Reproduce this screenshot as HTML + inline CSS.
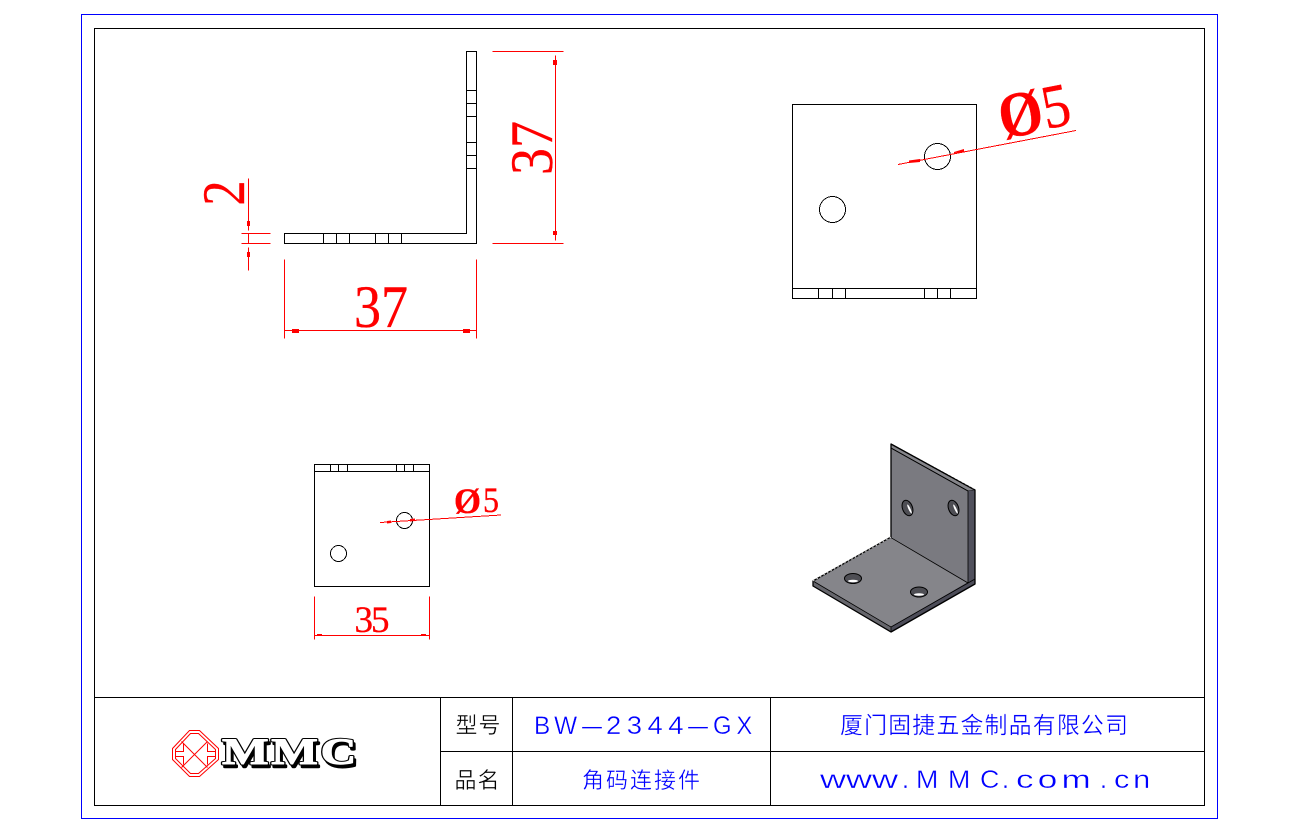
<!DOCTYPE html>
<html><head><meta charset="utf-8"><style>
html,body{margin:0;padding:0;background:#fff;width:1300px;height:840px;overflow:hidden}
svg{display:block}
.r{stroke:#f00;stroke-width:1;fill:none}
.k{stroke:#000;stroke-width:1;fill:none}
.c{font-family:"Liberation Serif",serif;fill:#f00;stroke:#f00;stroke-width:.35}
.t{font-family:"Liberation Sans","WenQuanYi Zen Hei","Noto Sans CJK SC",sans-serif}
</style></head><body>
<svg width="1300" height="840" viewBox="0 0 1300 840" xmlns="http://www.w3.org/2000/svg">
<g transform="translate(.5 .5)" shape-rendering="crispEdges">
<rect x="81" y="14" width="1136" height="804" fill="none" stroke="#00f"/>
<rect x="94" y="28" width="1110" height="777" class="k"/>
<path class="k" d="M94 697H1204M440 751H1204M440 697V805M512 697V805M770 697V805"/>
<!-- front view -->
<path class="k" d="M466 51H476V243H284V233H466ZM466 90H476M466 103H476M466 116H476M466 142H476M466 155H476M466 168H476M323 233V243M336 233V243M349 233V243M375 233V243M388 233V243M401 233V243"/>
<path class="r" d="M492 51H563M492 243H563M555 55V240M241 233H270M241 243H270M248 178V230M248 233V243M248 247V270M284 259V338M476 259V338M284 330H476"/>
<!-- top right view -->
<path class="k" d="M792 104H976V298H792ZM792 288H976M818 288V298M832 288V298M845 288V298M924 288V298M937 288V298M950 288V298"/>
<!-- bottom left view -->
<path class="k" d="M314 464H429V586H314ZM314 471H429M330 464V471M338 464V471M347 464V471M396 464V471M404 464V471M413 464V471"/>
<path class="r" d="M314 596V639M429 596V639M314 635H429"/>
</g>
<g fill="#f00" shape-rendering="crispEdges">
<rect x="553" y="60" width="4" height="5"/><rect x="553" y="231" width="4" height="4"/>
<rect x="247" y="221" width="3" height="5"/><rect x="247" y="252" width="3" height="5"/>
<rect x="292" y="329" width="7" height="4"/><rect x="463" y="329" width="7" height="4"/>
<rect x="317" y="634" width="5" height="2"/><rect x="421" y="634" width="5" height="2"/>
</g>
<g shape-rendering="crispEdges">
<circle cx="937.500" cy="156.500" r="13" fill="none" stroke="#000"/>
<circle cx="832.500" cy="209.500" r="13" fill="none" stroke="#000"/>
<circle cx="404.500" cy="520.500" r="8" fill="none" stroke="#000"/>
<circle cx="338.500" cy="553.500" r="8" fill="none" stroke="#000"/>
<path class="r" d="M898 164.500L1076 130.500M380 522.500L501 515"/>
</g>
<path fill="#f00" d="M909 160.500l11-1.500v3l-11 1zM954 152l10-3v3.500l-10 .5zM387 521l4-.5v2.500l-4 .5zM410 519l5-.5v2.500l-5 .5z"/>
<!-- dimension text -->
<text class="c" x="381" y="327" font-size="60" text-anchor="middle" textLength="54" lengthAdjust="spacingAndGlyphs">37</text>
<text class="c" transform="translate(552 148) rotate(-90)" font-size="60" text-anchor="middle" textLength="54" lengthAdjust="spacingAndGlyphs">37</text>
<text class="c" transform="translate(244 193) rotate(-90)" font-size="60" text-anchor="middle" textLength="25" lengthAdjust="spacingAndGlyphs">2</text>
<text class="c" x="372" y="632" font-size="37" text-anchor="middle" textLength="35" lengthAdjust="spacing">35</text>
<text class="c" transform="translate(1003 139) rotate(-11)" font-size="64" font-weight="bold" textLength="44" lengthAdjust="spacingAndGlyphs">Ø</text>
<text class="c" transform="translate(1046 129) rotate(-11)" font-size="62" textLength="28" lengthAdjust="spacingAndGlyphs">5</text>
<text class="c" x="454" y="513" font-size="36" font-weight="bold" textLength="27" lengthAdjust="spacingAndGlyphs">Ø</text>
<text class="c" x="483" y="512" font-size="36" textLength="16" lengthAdjust="spacingAndGlyphs">5</text>
<!-- isometric part -->
<g stroke-linejoin="round">
<polygon points="891,444 975,490 975,580 968,583 891,537" fill="#7a7a80"/>
<polygon points="891,444 975,490 968,491 891,448" fill="#85858a" stroke="#000" stroke-width=".8"/>
<polygon points="968,491 975,490 975,580 968,584" fill="#50505c"/>
<polygon points="890,537 968,583 891,627 813,581" fill="#85858a"/>
<polygon points="813,581 891,627 891,632 813,586" fill="#66666c"/>
<polygon points="891,627 975,578 975,584 891,632" fill="#4c4c58"/>
<path d="M891 444V537L813 581V586L891 632L975 584V490L891 444Z" fill="none" stroke="#000" stroke-width="1.300"/>
<path d="M891 448L968 491V583M890 537L968 583M813 581L891 627L975 579M891 627V632" fill="none" stroke="#000" stroke-width=".8"/>
<path d="M891 537L813 581" stroke="#fff" stroke-width=".8" stroke-dasharray="1.500 2.500" fill="none"/>
<path d="M892 443L975 489" stroke="#fff" stroke-width=".8" stroke-dasharray="1.500 2.500" fill="none"/>
<ellipse cx="907.500" cy="508" rx="5" ry="8" transform="rotate(-20 907.500 508)" fill="#4e4e54" stroke="#000"/>
<ellipse cx="953.500" cy="508" rx="5" ry="8" transform="rotate(-20 953.500 508)" fill="#4e4e54" stroke="#000"/>
<ellipse cx="909.500" cy="509" rx="1" ry="5" transform="rotate(-25 909.500 509)" fill="#fff"/>
<ellipse cx="955.500" cy="509" rx="1" ry="5" transform="rotate(-25 955.500 509)" fill="#fff"/>
<ellipse cx="853" cy="578.500" rx="8.500" ry="5" fill="#4e4e54" stroke="#000"/>
<ellipse cx="919" cy="592" rx="8.500" ry="5" fill="#4e4e54" stroke="#000"/>
<ellipse cx="853" cy="581" rx="5" ry="1.200" fill="#fff"/>
<ellipse cx="919" cy="594.500" rx="5" ry="1.200" fill="#fff"/>
</g>
<!-- logo -->
<g fill="none" stroke="#f00" stroke-width="1" transform="translate(.5 .5)">
<path d="M189 730H199L218 748V759L199 776H189L172 759V748Z"/>
<path d="M190 733H198L215 749V758L198 773H190L175 758V749Z"/>
<path d="M181 741L207 767M207 741L181 767"/>
<path d="M175 751H183V743M175 756H183V764M215 751H207V743M215 756H207V764"/>
</g>
<g font-family="'Liberation Serif',serif" font-weight="bold" font-size="37" stroke-linejoin="round" letter-spacing="2">
<text x="224" y="767" textLength="137" lengthAdjust="spacingAndGlyphs" fill="#000" stroke="#000" stroke-width="2.500">MMC</text>
<text x="222" y="764" textLength="137" lengthAdjust="spacingAndGlyphs" fill="#000" stroke="#000" stroke-width="3">MMC</text>
<text x="222" y="764" textLength="137" lengthAdjust="spacingAndGlyphs" fill="#fff" stroke="#fff" stroke-width="1">MMC</text>
</g>
<!-- title block text -->
<g class="t" stroke="#fff" stroke-width=".35">
<text x="478" y="733" font-size="22" text-anchor="middle" textLength="45" fill="#000">型号</text>
<text x="477" y="788" font-size="22" text-anchor="middle" textLength="45" fill="#000">品名</text>
<g fill="#00f">
<text x="534" y="734" font-size="25" letter-spacing="4" textLength="47" lengthAdjust="spacingAndGlyphs">BW</text>
<text x="582" y="734" font-size="25" textLength="20" lengthAdjust="spacingAndGlyphs">—</text>
<text x="606" y="734" font-size="25" letter-spacing="5" textLength="83" lengthAdjust="spacingAndGlyphs">2344</text>
<text x="688" y="734" font-size="25" textLength="20" lengthAdjust="spacingAndGlyphs">—</text>
<text x="713" y="734" font-size="25" letter-spacing="5" textLength="44" lengthAdjust="spacingAndGlyphs">GX</text>
<text x="641" y="788" font-size="22" text-anchor="middle" textLength="118">角码连接件</text>
<text x="984" y="733" font-size="23" text-anchor="middle" textLength="288">厦门固捷五金制品有限公司</text>
<text x="820" y="788" font-size="25" textLength="78" lengthAdjust="spacingAndGlyphs">www</text>
<text x="902" y="788" font-size="25">.</text>
<text x="916" y="788" font-size="25" letter-spacing="9" textLength="93" lengthAdjust="spacingAndGlyphs">MMC</text>
<text x="1002" y="788" font-size="25">.</text>
<text x="1016" y="788" font-size="25" letter-spacing="3" textLength="79" lengthAdjust="spacingAndGlyphs">com</text>
<text x="1100" y="788" font-size="25">.</text>
<text x="1114" y="788" font-size="25" letter-spacing="3" textLength="40" lengthAdjust="spacingAndGlyphs">cn</text>
</g>
</g>
</svg>
</body></html>
